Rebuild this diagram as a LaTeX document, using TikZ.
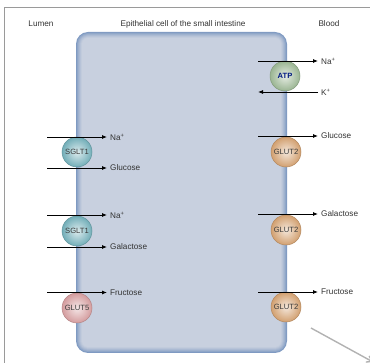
\documentclass[tikz,border=0pt]{standalone}
\usepackage{fontspec}
\setmainfont{Liberation Sans}
\usetikzlibrary{arrows.meta,calc}

\definecolor{cellfill}{HTML}{C8D0DF}
\definecolor{celledge}{HTML}{7F9AC2}
\definecolor{frame}{HTML}{9A9A9A}

\tikzset{
  lbl/.style={font=\fontsize{8.2}{9}\selectfont, text=black!80, inner sep=0pt},
  side/.style={lbl, anchor=west},
  flow/.style={line width=0.8pt, -{Latex[length=5pt,width=4pt]}},
  carrier/.style={circle, minimum size=30pt, inner sep=0pt,
    font=\fontsize{7.6}{8}\selectfont, text=black!78},
  sglt/.style={carrier, inner color=#1!25!white, outer color=#1, draw=#1!85!black, line width=0.5pt},
}
\definecolor{teal1}{HTML}{72AEB8}
\definecolor{tan1}{HTML}{D2A070}
\definecolor{pink1}{HTML}{D49C9E}
\definecolor{green1}{HTML}{9AB592}

\begin{document}
\begin{tikzpicture}[x=1pt,y=-1pt]
\useasboundingbox (0,0) rectangle (370,363);

% frame lines (top and left)
\draw[frame, line width=0.8pt] (370,7) -- (4.5,7) -- (4.5,363);

% headings
\node[lbl] (lumen) at (41,24) {Lumen};
\node[lbl] (title) at (183,24) {Epithelial cell of the small intestine};
\node[lbl] (blood) at (329,24) {Blood};

% the cell body: nested rounded rectangles give the soft shaded rim
\foreach \i/\c in {0/0,1/22,2/42,3/60,4/76,5/90,6/100}{
  \fill[cellfill!\c!celledge, rounded corners={12pt-\i pt}]
    ({76+\i},{32+\i}) rectangle ({287-\i},{353-\i});
}

% carriers on the lumen side
\node[sglt=teal1] (s1) at (77,152) {SGLT1};
\node[sglt=teal1] (s2) at (77,231) {SGLT1};
\node[sglt=pink1] (g5) at (77,308) {GLUT5};

% carriers on the blood side
\node[sglt=green1, text=blue!45!black!90!cyan, font=\fontsize{7.6}{8}\selectfont\bfseries] (atp) at (285,76) {ATP};
\node[sglt=tan1] (g2a) at (286,152) {GLUT2};
\node[sglt=tan1] (g2b) at (286,230) {GLUT2};
\node[sglt=tan1] (g2c) at (286,307) {GLUT2};

% labels on the inner side of the lumen carriers
\node[side] (na1) at (110,137) {Na\textsuperscript{+}};
\node[side] (glc1) at (110,168) {Glucose};
\node[side] (na2) at (110,215) {Na\textsuperscript{+}};
\node[side] (gal1) at (110,247) {Galactose};
\node[side] (fru1) at (110,292.5) {Fructose};

% labels on the blood side
\node[side] (na3) at (321,61) {Na\textsuperscript{+}};
\node[side] (k1) at (321,92) {K\textsuperscript{+}};
\node[side] (glc2) at (321,136) {Glucose};
\node[side] (gal2) at (321,214) {Galactose};
\node[side] (fru2) at (321,292) {Fructose};

% free ends of the arrows
\coordinate (a1) at (47,137);
\coordinate (a2) at (47,168);
\coordinate (a3) at (47,215);
\coordinate (a4) at (47,247);
\coordinate (a5) at (47,292.5);
\coordinate (b1) at (258,61);
\coordinate (b2) at (258,92);
\coordinate (b3) at (258,136);
\coordinate (b4) at (258,214);
\coordinate (b5) at (258,292);

\draw[flow] (a1) -- ($(na1.west)+(-3,0)$);
\draw[flow] (a2) -- ($(glc1.west)+(-3,0)$);
\draw[flow] (a3) -- ($(na2.west)+(-3,0)$);
\draw[flow] (a4) -- ($(gal1.west)+(-3,0)$);
\draw[flow] (a5) -- ($(fru1.west)+(-3,0)$);
\draw[flow] (b1) -- ($(na3.west)+(-3,0)$);
\draw[flow] ($(k1.west)+(-3,0)$) -- (b2);
\draw[flow] (b3) -- ($(glc2.west)+(-3,0)$);
\draw[flow] (b4) -- ($(gal2.west)+(-3,0)$);
\draw[flow] (b5) -- ($(fru2.west)+(-3,0)$);

% grey pointer leaving the corner
\coordinate (p1) at (311,328);
\coordinate (p2) at (373,362);
\draw[black!30, line width=1.4pt, -{Straight Barb[length=5pt,width=7pt]}] (p1) -- (p2);
\end{tikzpicture}
\end{document}
